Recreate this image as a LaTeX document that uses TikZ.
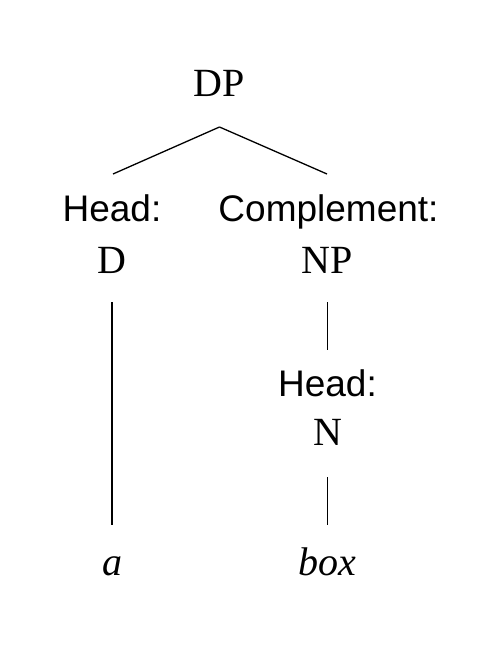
\documentclass[tikz,border=0pt]{standalone}
\usepackage{fontspec}
\setmainfont{Liberation Serif}
\setsansfont{Liberation Sans}
\begin{document}
\begin{tikzpicture}[x=1pt,y=-1pt,
  cat/.style={anchor=base,inner sep=0pt,font=\fontsize{40}{48}\selectfont},
  role/.style={anchor=base,inner sep=0pt,font=\fontsize{37}{44}\sffamily},
  word/.style={anchor=base,inner sep=0pt,font=\fontsize{40}{48}\itshape},
  branch/.style={draw=black,line width=1.3pt}]
\useasboundingbox[fill=white] (0,0) rectangle (500,652);
\node[cat]  (dp)  at (219.5,97)  {DP};
\node[role] (hd)  at (112,222)   {Head:};
\node[cat]  (d)   at (112,273)   {D};
\node[role] (cmp) at (328.5,222) {Complement:};
\node[cat]  (np)  at (327.5,273) {NP};
\node[role] (hn)  at (327.5,396) {Head:};
\node[cat]  (n)   at (327.5,445) {N};
\node[word] (a)   at (112,575)   {a};
\node[word] (box) at (327.5,575) {box};
\draw[branch] ([yshift=-30pt]dp.base) -- ([xshift=1pt,yshift=48pt]hd.base);
\draw[branch] ([yshift=-30pt]dp.base) -- ([xshift=-1.5pt,yshift=48pt]cmp.base);
\draw[branch] ([yshift=-29pt]d.base) -- ([yshift=50pt]a.base);
\draw[branch] ([yshift=-29pt]np.base) -- ([yshift=46pt]hn.base);
\draw[branch] ([yshift=-32pt]n.base) -- ([yshift=50pt]box.base);
\end{tikzpicture}
\end{document}
